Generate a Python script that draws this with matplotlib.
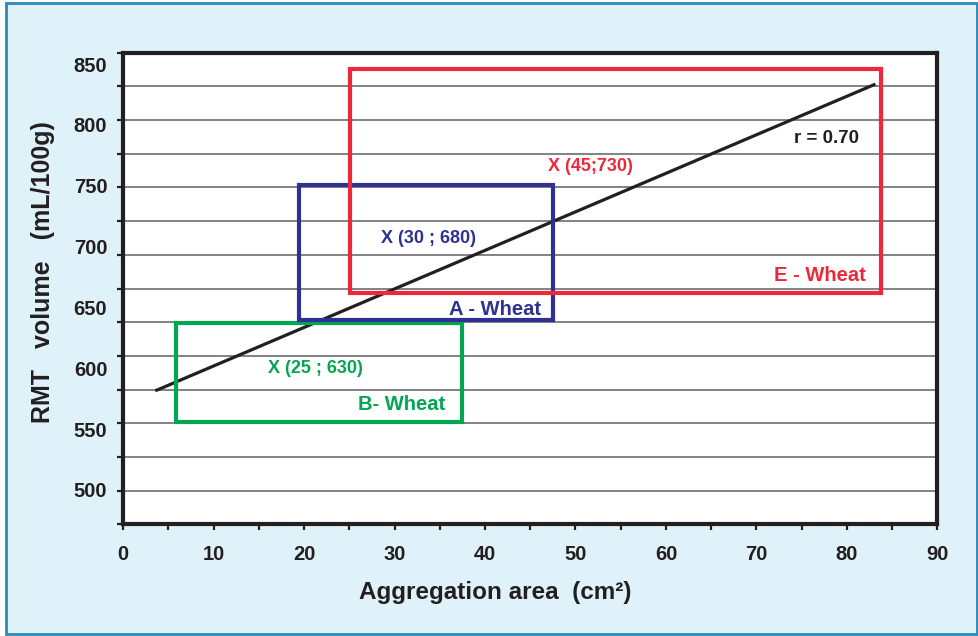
import matplotlib.pyplot as plt
import matplotlib.patches as mpatches
import numpy as np

# trend line end points (aggregation area, RMT volume)
trend_x = [3.7, 83.0]
trend_y = [582, 833]

# wheat group boxes: (name, x min, x max, y min, y max)
group_names = ["B- Wheat", "A - Wheat", "E - Wheat"]
group_xmin = [5.8, 19.4, 25.1]
group_xmax = [37.4, 47.5, 83.8]
group_ymin = [556, 640, 662]
group_ymax = [637, 751, 846]
group_means = ["X (25 ; 630)", "X (30 ; 680)", "X (45;730)"]
group_colors = ["#00a651", "#2e3192", "#ed2939"]

# text positions (data coords)
mean_pos = [(21.3, 600), (33.8, 707), (51.6, 766)]
name_pos = [(30.8, 570), (41.1, 648.5), (77.0, 676)]

y_labels = [500, 550, 600, 650, 700, 750, 800, 850]
x_labels = [0, 10, 20, 30, 40, 50, 60, 70, 80, 90]

ink = "#231f20"
plt.rcParams["font.family"] = ["Liberation Sans", "DejaVu Sans"]
plt.rcParams["font.weight"] = "bold"


def _main():
    fig = plt.figure(figsize=(9.79, 6.36), dpi=100)
    fig.patch.set_facecolor("white")
    frame = mpatches.Rectangle(
        (6 / 979, 2 / 636), 971 / 979, 631 / 636, transform=fig.transFigure,
        facecolor="#dff2fa", edgecolor="#2a8ab8", linewidth=2, zorder=-5)
    fig.patches.append(frame)

    ax = fig.add_axes([0.1259, 0.1756, 0.8315, 0.7415])
    ax.set_zorder(2)
    ax.set_facecolor("white")
    y_lo, y_hi = 471.8, 859.3
    ax.set_xlim(0, 90)
    ax.set_ylim(y_lo, y_hi)

    # gridlines every 1/14 of the axis, as in the original
    ax.set_yticks(np.linspace(y_lo, y_hi, 15), minor=True)
    ax.set_yticks(y_labels)
    ax.set_yticklabels([str(v) for v in y_labels])
    ax.grid(True, which="minor", axis="y", color="#6d6d6d", linewidth=1.2, zorder=1)
    ax.set_axisbelow(True)

    ax.set_xticks(x_labels)
    ax.set_xticks(np.arange(5, 90, 10), minor=True)

    ax.tick_params(axis="y", which="major", length=0, pad=11.5, labelsize=14.5, labelcolor=ink)
    ax.tick_params(axis="y", which="minor", length=4, width=1.6, color=ink)
    ax.tick_params(axis="x", which="both", length=4, width=1.6, color=ink,
                   pad=11, labelsize=14.5, labelcolor=ink)
    for s in ax.spines.values():
        s.set_linewidth(3)
        s.set_color(ink)
        s.set_zorder(5)

    ax.plot(trend_x, trend_y, color=ink, linewidth=2.3, zorder=3)

    for i in range(len(group_names)):
        ax.add_patch(mpatches.Rectangle(
            (group_xmin[i], group_ymin[i]), group_xmax[i] - group_xmin[i],
            group_ymax[i] - group_ymin[i], fill=False,
            edgecolor=group_colors[i], linewidth=3, zorder=4))
        ax.text(*mean_pos[i], group_means[i], color=group_colors[i], fontsize=13,
                ha="center", va="center", zorder=6)
        ax.text(*name_pos[i], group_names[i], color=group_colors[i], fontsize=14.5,
                ha="center", va="center", zorder=6)

    ax.text(77.7, 789, "r = 0.70", color=ink, fontsize=13.5, ha="center", va="center")

    fig.text(495 / 979, 1 - 593 / 636, "Aggregation area  (cm²)", fontsize=17.5,
             color=ink, ha="center", va="center")
    fig.text(43 / 979, 1 - 272 / 636, "RMT   volume   (mL/100g)", fontsize=18,
             color=ink, ha="center", va="center", rotation=90)

    fig.savefig("out.png", dpi=100, facecolor=fig.get_facecolor())


if __name__ == "__main__":
    _main()
